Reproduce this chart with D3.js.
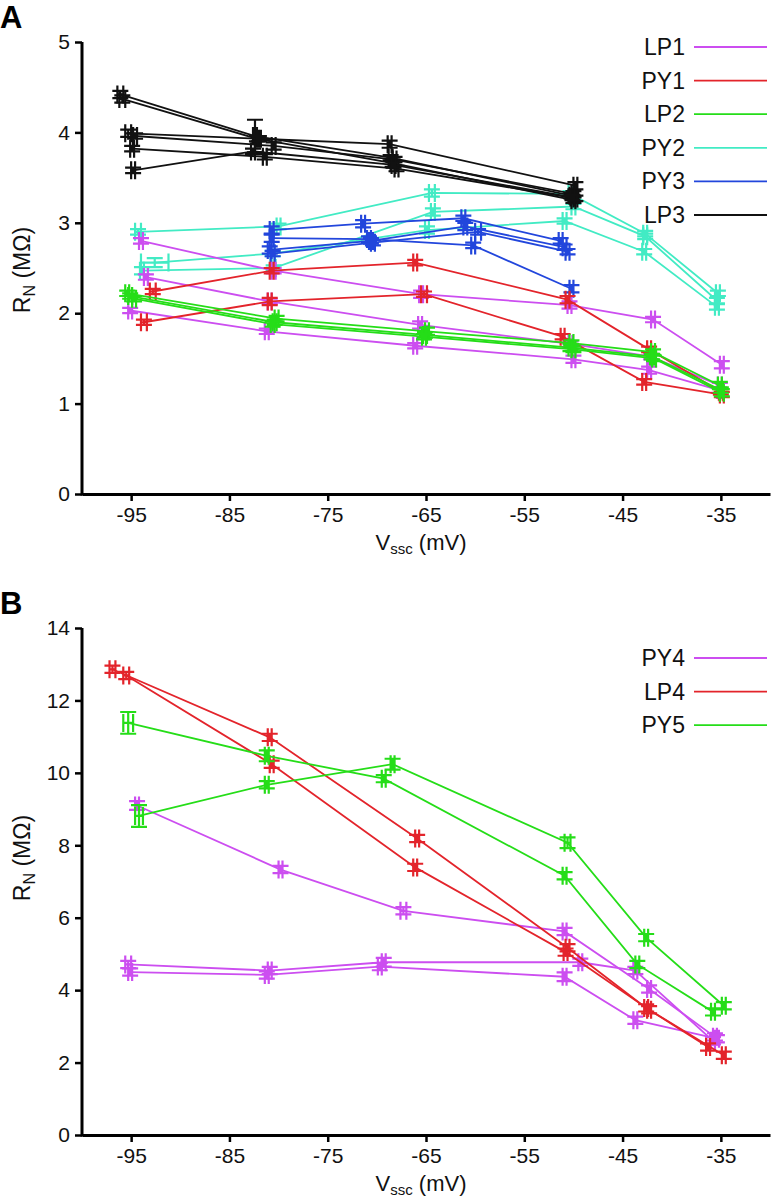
<!DOCTYPE html>
<html>
<head>
<meta charset="utf-8">
<script src="https://cdn.jsdelivr.net/npm/d3@7"></script>
<style>
  body { margin: 0; background: #fff; }
  svg { display: block; font-family: "Liberation Sans", Arial, sans-serif; }
</style>
</head>
<body>
<div id="chart"></div>
<script>
// ticks
var xTicks = [-95, -85, -75, -65, -55, -45, -35];
var yTicksA = [0, 1, 2, 3, 4, 5];
var yTicksB = [0, 2, 4, 6, 8, 10, 12, 14];

// each point: [Vssc (mV), RN (MOhm), x error, y error]
var LP1 = [
  [[-94.0, 2.80, .2, .03], [-80.5, 2.47, .2, .03], [-65.5, 2.21, .2, .04], [-50.4, 2.09, .2, .04], [-41.9, 1.93, .2, .03], [-34.9, 1.43, .2, .04]],
  [[-93.5, 2.40, .2, .03], [-80.9, 2.13, .2, .03], [-65.6, 1.87, .2, .04], [-50.3, 1.66, .2, .03], [-42.1, 1.52, .2, .03], [-35.1, 1.20, .2, .03]],
  [[-95.1, 2.03, .2, .03], [-81.2, 1.80, .2, .03], [-66.1, 1.64, .2, .03], [-50.0, 1.49, .2, .04], [-42.3, 1.37, .2, .04], [-35.2, 1.15, .2, .03]]
];
var PY1 = [
  [[-92.8, 2.24, .3, .03], [-80.7, 2.47, .2, .03], [-66.1, 2.56, .2, .03], [-50.6, 2.15, .2, .04], [-42.3, 1.60, .2, .03], [-35.0, 1.13, .2, .03]],
  [[-93.7, 1.90, .3, .03], [-80.9, 2.13, .2, .04], [-65.2, 2.21, .3, .03], [-51.1, 1.74, .2, .03], [-42.8, 1.24, .2, .03], [-34.9, 1.10, .2, .03]]
];
var LP2 = [
  [[-95.4, 2.22, .2, .03], [-80.2, 1.94, .2, .03], [-64.9, 1.80, .2, .04], [-50.2, 1.67, .2, .03], [-41.9, 1.57, .2, .03], [-35.1, 1.20, .2, .04]],
  [[-95.1, 2.19, .2, .03], [-80.4, 1.90, .2, .03], [-65.1, 1.76, .2, .03], [-50.3, 1.62, .2, .04], [-42.0, 1.52, .2, .03], [-35.0, 1.15, .2, .03]],
  [[-94.7, 2.16, .2, .03], [-80.6, 1.88, .2, .03], [-65.2, 1.74, .2, .03], [-50.0, 1.60, .2, .03], [-41.8, 1.50, .2, .03], [-34.9, 1.12, .2, .04]]
];
var PY2 = [
  [[-94.3, 2.90, .3, .03], [-80.0, 2.96, .2, .03], [-64.4, 3.33, .3, .04], [-50.3, 3.32, .2, .03], [-42.7, 2.88, .2, .03], [-35.3, 2.22, .2, .03]],
  [[-93.9, 2.47, .2, .04], [-80.5, 2.50, .2, .03], [-64.3, 3.12, .2, .04], [-50.0, 3.18, .2, .03], [-42.7, 2.85, .2, .03], [-35.4, 2.14, .2, .03]],
  [[-92.6, 2.56, 1.4, .05], [-80.6, 2.66, .2, .03], [-64.9, 2.92, .2, .04], [-50.9, 3.02, .2, .03], [-42.8, 2.68, .2, .03], [-35.4, 2.07, .2, .03]]
];
var PY3 = [
  [[-80.7, 2.92, .2, .04], [-71.4, 2.99, .2, .04], [-61.2, 3.05, .2, .03], [-51.3, 2.80, .2, .03]],
  [[-80.7, 2.83, .2, .04], [-70.8, 2.82, .2, .03], [-60.2, 2.75, .2, .03], [-50.2, 2.27, .2, .04]],
  [[-80.9, 2.70, .2, .04], [-70.6, 2.80, .2, .03], [-61.0, 2.96, .2, .04], [-50.9, 2.73, .2, .03]],
  [[-80.6, 2.66, .2, .03], [-70.4, 2.78, .2, .03], [-59.7, 2.90, .3, .03], [-50.6, 2.68, .2, .03]]
];
var LP3 = [
  [[-96.1, 4.42, .3, .04], [-82.4, 3.96, .2, .18], [-68.6, 3.72, .2, .03], [-50.2, 3.30, .2, .03]],
  [[-95.9, 4.37, .3, .04], [-82.2, 3.93, .2, .03], [-68.4, 3.66, .2, .04], [-50.0, 3.25, .2, .03]],
  [[-95.3, 3.99, .3, .04], [-82.0, 3.93, .2, .03], [-68.7, 3.87, .2, .04], [-49.8, 3.41, .2, .04]],
  [[-94.6, 3.96, .2, .03], [-80.5, 3.85, .2, .04], [-68.2, 3.70, .2, .03], [-50.0, 3.32, .2, .03]],
  [[-94.9, 3.82, .2, .03], [-81.4, 3.73, .2, .03], [-68.0, 3.60, .2, .03], [-49.8, 3.27, .2, .03]],
  [[-94.8, 3.58, .2, .03], [-82.6, 3.79, .2, .03], [-68.3, 3.64, .2, .03], [-50.1, 3.28, .2, .03]]
];
var PY4 = [
  [[-94.4, 9.10, .2, .12], [-79.8, 7.33, .2, .1], [-67.3, 6.19, .3, .1], [-50.9, 5.62, .2, .1], [-42.3, 4.03, .2, .1], [-35.6, 2.71, .2, .1]],
  [[-95.3, 4.71, .3, .1], [-80.9, 4.54, .2, .1], [-69.3, 4.77, .2, .12], [-49.3, 4.77, .2, .1], [-43.7, 4.54, .2, .1], [-35.8, 2.60, .2, .1]],
  [[-95.1, 4.50, .2, .1], [-81.2, 4.42, .2, .1], [-69.7, 4.65, .2, .1], [-50.9, 4.37, .2, .12], [-43.7, 3.17, .2, .1], [-35.4, 2.66, .2, .1]]
];
var LP4 = [
  [[-96.9, 12.86, .3, .1], [-80.9, 10.98, .2, .1], [-65.9, 8.19, .2, .1], [-50.6, 5.17, .2, .1], [-42.6, 3.51, .2, .1], [-36.3, 2.43, .2, .1]],
  [[-95.5, 12.69, .3, .1], [-80.7, 10.24, .2, .1], [-66.1, 7.39, .2, .1], [-50.8, 5.05, .2, .1], [-42.3, 3.46, .2, .1], [-34.7, 2.20, .2, .1]]
];
var PY5 = [
  [[-95.3, 11.38, .5, .3], [-81.2, 10.47, .2, .15], [-69.3, 9.84, .2, .1], [-50.9, 7.16, .2, .1], [-43.5, 4.71, .2, .1], [-35.8, 3.40, .2, .1]],
  [[-94.2, 8.81, .4, .3], [-81.2, 9.67, .2, .1], [-68.4, 10.24, .2, .15], [-50.6, 8.07, .3, .15], [-42.6, 5.45, .2, .1], [-34.7, 3.57, .2, .1]]
];

var namesA = ["LP1", "PY1", "LP2", "PY2", "PY3", "LP3"];
var seriesA = [LP1, PY1, LP2, PY2, PY3, LP3];
var colorsA = ["#cc4ef0", "#e3242b", "#25dd18", "#42ebc4", "#2246dc", "#111111"];
var drawOrderA = [3, 4, 0, 1, 2, 5];

var namesB = ["PY4", "LP4", "PY5"];
var seriesB = [PY4, LP4, PY5];
var colorsB = ["#cc4ef0", "#e3242b", "#25dd18"];

var W = 773, H = 1199;
var svg = d3.select("#chart").append("svg").attr("width", W).attr("height", H);

function panel(opt) {
  var x = d3.scaleLinear().domain([-100, -30]).range([82, 770]);
  var y = d3.scaleLinear().domain([0, opt.ymax]).range([opt.bottom, opt.top]);
  var g = svg.append("g");

  // data lines + error crosses
  var capW = 8, capH = 9;
  opt.order.forEach(function(si) {
    var col = opt.colors[si];
    var sg = g.append("g").attr("stroke", col).attr("fill", "none");
    opt.series[si].forEach(function(rec) {
      sg.append("path")
        .attr("d", d3.line().x(function(p) { return x(p[0]); }).y(function(p) { return y(p[1]); })(rec))
        .attr("stroke-width", 1.8);
      rec.forEach(function(p) {
        var cx = x(p[0]), cy = y(p[1]);
        var x0 = x(p[0] - p[2]), x1 = x(p[0] + p[2]);
        var y0 = y(p[1] + p[3]), y1 = y(p[1] - p[3]);
        var d = "M" + cx + "," + y0 + "V" + y1
          + "M" + (cx - capW) + "," + y0 + "H" + (cx + capW)
          + "M" + (cx - capW) + "," + y1 + "H" + (cx + capW)
          + "M" + x0 + "," + cy + "H" + x1
          + "M" + x0 + "," + (cy - capH) + "V" + (cy + capH)
          + "M" + x1 + "," + (cy - capH) + "V" + (cy + capH);
        sg.append("path").attr("d", d).attr("stroke-width", 2.2);
      });
    });
  });

  // axes
  var ax = g.append("g").attr("transform", "translate(0," + opt.bottom + ")")
    .call(d3.axisBottom(x).tickValues(xTicks).tickFormat(function(d) { return String(d); })
      .tickSize(7).tickPadding(6).tickSizeOuter(0));
  var ay = g.append("g").attr("transform", "translate(82,0)")
    .call(d3.axisLeft(y).tickValues(opt.yticks).tickFormat(d3.format("d"))
      .tickSize(7).tickPadding(5).tickSizeOuter(0));
  [ax, ay].forEach(function(a) {
    a.select(".domain").attr("stroke", "#000").attr("stroke-width", 3);
    a.selectAll(".tick line").attr("stroke", "#000").attr("stroke-width", 2.5);
    a.selectAll(".tick text").attr("font-size", 21).attr("fill", "#111")
      .attr("font-family", "Liberation Sans, Arial, sans-serif");
  });
  ay.select(".domain").attr("d", "M0," + (opt.bottom + 1.5) + "V" + opt.top);

  // x title
  var xt = g.append("text").attr("x", 421).attr("y", opt.bottom + 56)
    .attr("text-anchor", "middle").attr("font-size", 22).attr("fill", "#111");
  xt.append("tspan").text("V");
  xt.append("tspan").text("ssc").attr("font-size", 15).attr("dy", 4);
  xt.append("tspan").text(" (mV)").attr("dy", -4);

  // y title
  var yt = g.append("text")
    .attr("transform", "translate(30," + opt.ymid + ") rotate(-90)")
    .attr("text-anchor", "middle").attr("font-size", 23).attr("fill", "#111");
  yt.append("tspan").text("R");
  yt.append("tspan").text("N").attr("font-size", 16).attr("dy", 5);
  yt.append("tspan").text(" (M\u03A9)").attr("dy", -5);

  // panel letter
  g.append("text").attr("x", 0).attr("y", opt.letterY).text(opt.letter)
    .attr("font-size", 31).attr("font-weight", "bold").attr("fill", "#000");

  // legend
  opt.names.forEach(function(n, i) {
    var ly = opt.legTop + i * 33.6;
    g.append("text").attr("x", 685).attr("y", ly + 8).attr("text-anchor", "end")
      .attr("font-size", 23).attr("fill", "#111").text(n);
    g.append("line").attr("x1", 694).attr("x2", 767).attr("y1", ly).attr("y2", ly)
      .attr("stroke", opt.colors[i]).attr("stroke-width", 1.8);
  });
}

panel({ ymax: 5, top: 42, bottom: 494, yticks: yTicksA, ymid: 270, letter: "A", letterY: 28,
        names: namesA, series: seriesA, colors: colorsA, order: drawOrderA, legTop: 47 });
panel({ ymax: 14, top: 628, bottom: 1135, yticks: yTicksB, ymid: 858, letter: "B", letterY: 614,
        names: namesB, series: seriesB, colors: colorsB, order: [0, 1, 2], legTop: 658 });
</script>
</body>
</html>
